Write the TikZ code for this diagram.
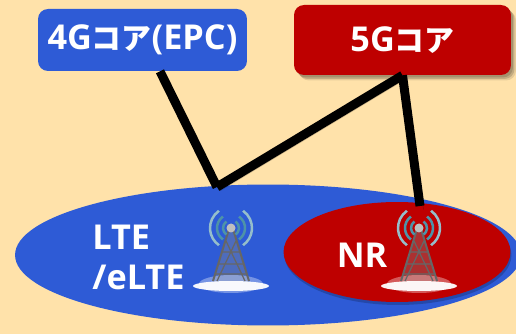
\documentclass[tikz,border=0pt]{standalone}
\usepackage{fontspec}
\setmainfont{Open Sans}
\newfontfamily\kanafont{Noto Sans CJK JP Bold}
\usepackage{tikz}
\usetikzlibrary{shadows}
\usetikzlibrary{calc}
\usetikzlibrary{shapes.geometric}
\definecolor{paper}{HTML}{FFE2AA}
\definecolor{lteblue}{HTML}{2E5BD6}
\definecolor{nrred}{HTML}{BE0000}
\definecolor{wave}{HTML}{4E93A8}
\newcommand{\kana}[1]{{\kanafont\fontsize{17}{17}\selectfont #1}}
\tikzset{
    core/.style={rounded corners=0.2cm, text=white, inner sep=0pt, font=\fontsize{19.5}{19.5}\selectfont\bfseries},
    softshadow/.style={
        drop shadow={shadow xshift=0.10cm, shadow yshift=-0.11cm, fill=black, opacity=0.10},
        drop shadow={shadow xshift=0.07cm, shadow yshift=-0.08cm, fill=black, opacity=0.15},
        drop shadow={shadow xshift=0.04cm, shadow yshift=-0.05cm, fill=black, opacity=0.15}},
    area/.style={ellipse, inner sep=0pt},
    areatext/.style={text=white, font=\fontsize{19.5}{19.5}\selectfont\bfseries, inner sep=0pt},
    link/.style={line width=0.18cm, black,
        preaction={draw, black, opacity=0.2, transform canvas={xshift=0.07cm, yshift=-0.07cm}}},
}

\begin{document}
\begin{tikzpicture}[x=0.02cm, y=0.02cm]
    \useasboundingbox (0,0) rectangle (516,334);
    \fill[paper] (0,0) rectangle (516,334);
    \node[area, fill=lteblue, minimum width=10.12cm, minimum height=2.82cm] (lte) at (268,79) {};
    \node[area, fill=nrred, drop shadow={shadow xshift=0.02cm, shadow yshift=-0.06cm, fill=black, opacity=0.2}, minimum width=4.54cm, minimum height=2.0cm] (nr) at (397,82) {};
    \node[core, fill=lteblue, minimum width=4.18cm, minimum height=1.24cm] (epc) at (142.5,294) {4G\kana{コア}(EPC)};
    \node[core, fill=nrred, softshadow, minimum width=4.34cm, minimum height=1.4cm] (fiveg) at (402.5,294) {5G\kana{コア}};
    \coordinate (ltetop) at (217,147);
    \coordinate (nrtop) at (420,128);
    \draw[link] ([xshift=0.35cm]epc.south) -- (ltetop);
    \draw[link] (fiveg.south) -- (ltetop);
    \draw[link] (fiveg.south) -- (nrtop);
    \node[areatext, anchor=west] (ltelabel) at (92,97) {LTE};
    \node[areatext, anchor=west] (elabel) at (92,57) {/eLTE};
    \node[areatext] (nrlabel) at (362,79) {NR};
    \foreach \x in {231,419} {
        \fill[black!45, opacity=0.35] (\x-3,105) -- (\x+3,105) -- (\x+18,52) -- (\x-18,52) -- cycle;
        \fill[white, opacity=0.35] (\x,50) ellipse (32 and 9);
        \fill[white, opacity=0.95] (\x,48) ellipse (38 and 5);
        \draw[black!60, line width=0.04cm] (\x-18,53) -- (\x-2,105) (\x+18,53) -- (\x+2,105);
        \draw[black!60, line width=0.025cm] (\x-5,93) -- (\x+14,53) (\x+5,93) -- (\x-14,53)
            (\x-12,70) -- (\x+12,70) (\x-8,82) -- (\x+8,82) (\x-16,60) -- (\x+16,60);
        \fill[black!25] (\x,106) circle (4.5);
        \foreach \r/\c in {8/wave,14/wave,21/wave!60!white} {
            \draw[\c, line width=0.05cm] ($(\x,106)+(125:\r)$) arc (125:235:\r);
            \draw[\c, line width=0.05cm] ($(\x,106)+(55:\r)$) arc (55:-55:\r);
        }
    }
\end{tikzpicture}
\end{document}
